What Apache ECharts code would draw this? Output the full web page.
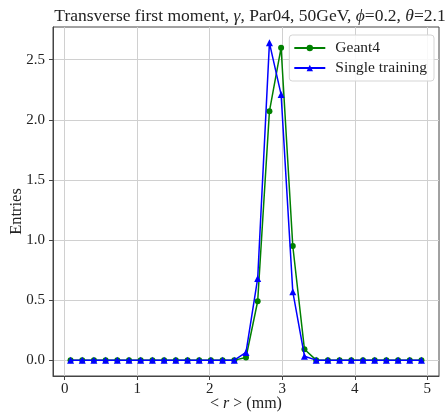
<!DOCTYPE html>
<html>
<head>
<meta charset="utf-8">
<script src="https://cdn.jsdelivr.net/npm/echarts@6/dist/echarts.min.js"></script>
<style>
  html, body { margin: 0; padding: 0; background: #fff; }
  #chart { width: 448px; height: 413px; }
</style>
</head>
<body>
<div id="chart"></div>
<script>
// Bin centres of <r> (mm), 31 bins over 0-5 mm
const rCenters = [0.081, 0.242, 0.403, 0.565, 0.726, 0.887, 1.048, 1.210, 1.371, 1.532,
  1.694, 1.855, 2.016, 2.177, 2.339, 2.500, 2.661, 2.823, 2.984, 3.145,
  3.306, 3.468, 3.629, 3.790, 3.952, 4.113, 4.274, 4.435, 4.597, 4.758, 4.919];

const geant4 = [0, 0, 0, 0, 0, 0, 0, 0, 0, 0,
  0, 0, 0, 0, 0, 0.022, 0.49, 2.07, 2.60, 0.95,
  0.09, 0, 0, 0, 0, 0, 0, 0, 0, 0, 0];

const singleTraining = [0, 0, 0, 0, 0, 0, 0, 0, 0, 0,
  0, 0, 0, 0, 0, 0.064, 0.68, 2.64, 2.21, 0.57,
  0.033, 0, 0, 0, 0, 0, 0, 0, 0, 0, 0];

const xTicks = [0, 1, 2, 3, 4, 5];
const yTicks = [0, 0.5, 1.0, 1.5, 2.0, 2.5];

const FONT = 'Liberation Serif';
const TXT = '#222';
const FRAME = '#444';

const pairs = (xs, ys) => xs.map((x, i) => [x, ys[i]]);

const chart = echarts.init(document.getElementById('chart'), null, { renderer: 'canvas' });

chart.setOption({
  backgroundColor: '#fff',
  animation: false,
  textStyle: { fontFamily: FONT },
  title: {
    text: '{n|Transverse first moment, }{i|γ}{n|, Par04, 50GeV, }{i|ϕ}{n|=0.2, }{i|θ}{n|=2.1}',
    left: 245, top: 2, textAlign: 'center',
    textStyle: {
      fontWeight: 'normal',
      rich: {
        n: { fontFamily: FONT, fontSize: 17.5, fontWeight: 'normal', color: TXT },
        i: { fontFamily: FONT, fontSize: 17.5, fontWeight: 'normal', fontStyle: 'italic', color: TXT }
      }
    }
  },
  legend: {
    right: 14, top: 35,
    orient: 'vertical',
    itemWidth: 31, itemHeight: 8, itemGap: 4,
    padding: [5, 7, 5, 4],
    backgroundColor: 'rgba(255,255,255,0.85)',
    borderColor: '#d5d5d5', borderWidth: 1, borderRadius: 3,
    textStyle: { fontFamily: FONT, fontSize: 15.5, color: TXT, padding: [0, 0, 0, 5] },
    data: ['Geant4', 'Single training']
  },
  grid: {
    left: 53, right: 9, top: 27, bottom: 37,
    containLabel: false, outerBoundsMode: 'none',
    show: true, borderColor: FRAME, borderWidth: 1, backgroundColor: 'transparent'
  },
  xAxis: {
    type: 'value',
    min: -0.161, max: 5.161,
    name: '{p|< }{i|r}{p| > (mm)}',
    nameLocation: 'middle', nameGap: 20, nameMoveOverlap: false,
    nameTextStyle: {
      rich: {
        p: { fontFamily: FONT, fontSize: 16, color: TXT },
        i: { fontFamily: FONT, fontSize: 16, fontStyle: 'italic', color: TXT }
      }
    },
    axisLine: { show: true, onZero: false, lineStyle: { color: FRAME, width: 1 } },
    axisTick: { show: true, length: 4, lineStyle: { color: FRAME }, customValues: xTicks },
    axisLabel: { fontFamily: FONT, fontSize: 15, color: TXT, margin: 6, customValues: xTicks,
      formatter: v => String(v) },
    splitLine: { show: true, lineStyle: { color: '#d0d0d0', width: 1 } }
  },
  yAxis: {
    type: 'value',
    min: -0.132, max: 2.772,
    name: 'Entries',
    nameLocation: 'middle', nameGap: 28, nameMoveOverlap: false,
    nameTextStyle: { fontFamily: FONT, fontSize: 16.5, color: TXT, padding: [0, 20, 0, 0] },
    axisLine: { show: true, onZero: false, lineStyle: { color: FRAME, width: 1 } },
    axisTick: { show: true, length: 4, lineStyle: { color: FRAME }, customValues: yTicks },
    axisLabel: { fontFamily: FONT, fontSize: 15, color: TXT, margin: 8, customValues: yTicks,
      formatter: v => v.toFixed(1) },
    splitLine: { show: true, lineStyle: { color: '#d0d0d0', width: 1 } }
  },
  series: [
    {
      name: 'Geant4',
      type: 'line',
      data: pairs(rCenters, geant4),
      symbol: 'circle', symbolSize: 6,
      lineStyle: { color: '#008000', width: 1.5 },
      itemStyle: { color: '#008000' },
      z: 2
    },
    {
      name: 'Single training',
      type: 'line',
      data: pairs(rCenters, singleTraining),
      symbol: 'triangle', symbolSize: 7,
      lineStyle: { color: '#0000ff', width: 1.5 },
      itemStyle: { color: '#0000ff' },
      z: 3
    }
  ]
});
</script>
</body>
</html>
